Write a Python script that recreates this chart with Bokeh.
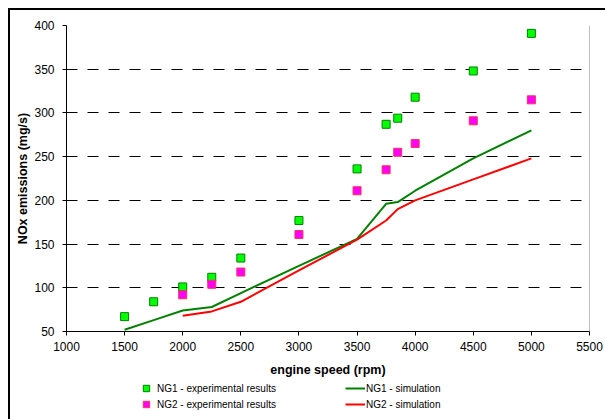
from bokeh.plotting import figure
from bokeh.models import Legend, LegendItem, Span, FixedTicker
from bokeh.layouts import column
from bokeh.embed import file_html
from bokeh.resources import INLINE

# ---- data ----
rpm_ng1_exp = [1500, 1750, 2000, 2250, 2500, 3000, 3500, 3750, 3850, 4000, 4500, 5000]
nox_ng1_exp = [67, 84, 101, 112, 134, 177, 236, 287, 294, 318, 348, 391]

rpm_ng2_exp = [2000, 2250, 2500, 3000, 3500, 3750, 3850, 4000, 4500, 5000]
nox_ng2_exp = [92, 104, 118, 161, 211, 235, 255, 265, 291, 315]

rpm_ng1_sim = [1500, 1750, 2000, 2250, 2500, 3000, 3500, 3750, 3850, 4000, 4500, 5000]
nox_ng1_sim = [52, 63, 74, 78, 94, 125, 156, 196, 198, 211, 248, 280]

rpm_ng2_sim = [2000, 2250, 2500, 3000, 3500, 3750, 3850, 4000, 4500, 5000]
nox_ng2_sim = [68, 73, 84, 120, 155, 177, 190, 200, 224, 248]

x_ticks = [1000, 1500, 2000, 2500, 3000, 3500, 4000, 4500, 5000, 5500]
y_ticks = [50, 100, 150, 200, 250, 300, 350, 400]

labels_exp = ["NG1 - experimental results", "NG2 - experimental results"]
labels_sim = ["NG1 - simulation", "NG2 - simulation"]

FONT = "Liberation Sans"
GREEN_LINE, RED_LINE = "#008000", "#FF0000"
GREEN_FILL, MAG_FILL = "#00FF00", "#FF00FF"
GREEN_EDGE, MAG_EDGE = "#008000", "#FF3050"

# ---------------- main chart ----------------
p = figure(width=595, height=370, x_range=(1000, 5500), y_range=(50, 400),
           output_backend="svg", toolbar_location=None,
           min_border_left=56, min_border_right=16, min_border_top=15, min_border_bottom=49,
           background_fill_color="white", border_fill_color="white")
p.outline_line_color = None

for ax in (p.xaxis[0], p.yaxis[0]):
    ax.axis_line_color = "black"
    ax.axis_line_width = 1
    ax.major_tick_line_color = "black"
    ax.major_tick_out = 4
    ax.major_tick_in = 0
    ax.minor_tick_line_color = None
    ax.major_label_text_font = FONT
    ax.major_label_text_font_size = "12px"
    ax.major_label_text_color = "black"
    ax.axis_label_text_font = FONT
    ax.axis_label_text_font_size = "12.5px"
    ax.axis_label_text_font_style = "bold"
    ax.axis_label_text_color = "black"

p.xaxis.ticker = FixedTicker(ticks=x_ticks)
p.yaxis.ticker = FixedTicker(ticks=y_ticks)
p.xaxis.axis_label = "engine speed (rpm)"
p.yaxis.axis_label = "NOx emissions (mg/s)"
p.xaxis.major_label_standoff = 6
p.yaxis.major_label_standoff = 8
p.xaxis.axis_label_standoff = 9
p.yaxis.axis_label_standoff = 1

p.xgrid.grid_line_color = None
p.ygrid.ticker = FixedTicker(ticks=y_ticks)
p.ygrid.grid_line_color = "black"
p.ygrid.grid_line_dash = "11 10"
p.ygrid.grid_line_width = 1

p.add_layout(Span(location=5500, dimension="height", line_color="#808080", line_width=1))

p.line(rpm_ng1_sim, nox_ng1_sim, line_color=GREEN_LINE, line_width=2)
p.line(rpm_ng2_sim, nox_ng2_sim, line_color=RED_LINE, line_width=2)
p.scatter(rpm_ng1_exp, nox_ng1_exp, marker="square", size=8,
          fill_color=GREEN_FILL, line_color=GREEN_EDGE, line_width=1)
p.scatter(rpm_ng2_exp, nox_ng2_exp, marker="square", size=8,
          fill_color=MAG_FILL, line_color=MAG_EDGE, line_width=1)

# ---------------- legend strip (below the chart) ----------------
# the series are drawn here as well, but the view range hides them: only legend keys show
lg = figure(width=595, height=39, x_range=(0, 1), y_range=(0, 1),
            output_backend="svg", toolbar_location=None,
            x_axis_type=None, y_axis_type=None,
            min_border_left=0, min_border_right=0, min_border_top=0, min_border_bottom=0,
            background_fill_color="white", border_fill_color="white")
lg.outline_line_color = None
lg.grid.grid_line_color = None

k1 = lg.scatter(rpm_ng1_exp, nox_ng1_exp, marker="square", size=8,
                fill_color=GREEN_FILL, line_color=GREEN_EDGE, line_width=1)
k2 = lg.scatter(rpm_ng2_exp, nox_ng2_exp, marker="square", size=8,
                fill_color=MAG_FILL, line_color=MAG_EDGE, line_width=1)
k3 = lg.line(rpm_ng1_sim, nox_ng1_sim, line_color=GREEN_LINE, line_width=2)
k4 = lg.line(rpm_ng2_sim, nox_ng2_sim, line_color=RED_LINE, line_width=2)

def make_legend(items, loc):
    return Legend(items=items, location=loc, orientation="vertical",
                  glyph_width=20, glyph_height=16, label_standoff=1, label_height=12,
                  spacing=-1, padding=0, margin=0,
                  label_text_font=FONT, label_text_font_size="10px", label_text_color="black",
                  border_line_color=None, background_fill_alpha=0)

lg.add_layout(make_legend([LegendItem(label=labels_exp[0], renderers=[k1]),
                           LegendItem(label=labels_exp[1], renderers=[k2])], (70, 7)))
lg.add_layout(make_legend([LegendItem(label=labels_sim[0], renderers=[k3]),
                           LegendItem(label=labels_sim[1], renderers=[k4])], (279, 7)))

layout = column(p, lg, spacing=0,
                styles={"margin-left": "8px", "margin-top": "8px",
                        "border-left": "2px solid black", "border-top": "2px solid black"})

open("out.html", "w").write(file_html(layout, INLINE))
